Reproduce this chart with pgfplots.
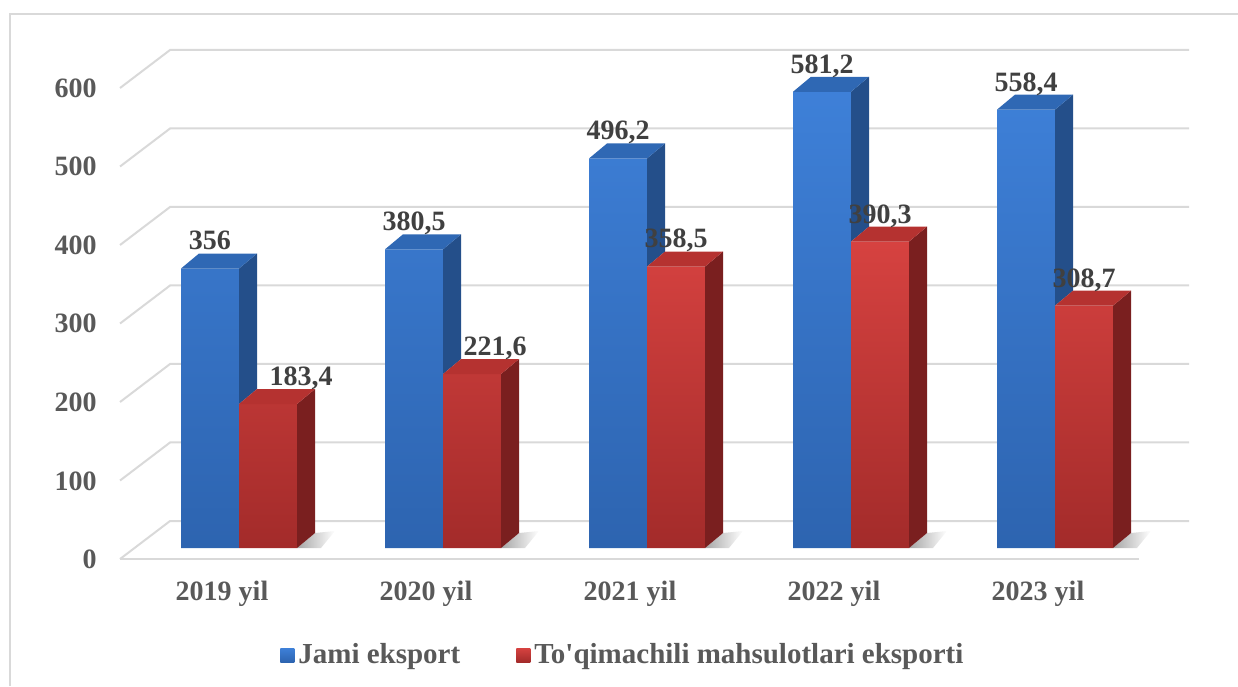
\documentclass[border=0pt]{standalone}
\usepackage{pgfplots}
\pgfplotsset{compat=1.18}
\usepackage{pgfplotstable}
\usepackage{fontspec}
\setmainfont{Liberation Serif}
\definecolor{gridc}{HTML}{D9D9D9}
\definecolor{txt}{HTML}{595959}
\definecolor{lbl}{HTML}{404040}
\definecolor{bfT}{HTML}{3E80D8}
\definecolor{bfB}{HTML}{2D64B0}
\definecolor{bS}{HTML}{244F8A}
\definecolor{bTop}{HTML}{2F68B4}
\definecolor{rfT}{HTML}{D64240}
\definecolor{rfB}{HTML}{A32B2A}
\definecolor{rS}{HTML}{7A1F1F}
\definecolor{rTop}{HTML}{B53230}
\pgfdeclareplotmark{empty}{}
\pgfkeys{/pgf/number format/assume math mode=true}
\pgfplotstableread{
x v r ldx
0 356 183.4 0
1 380.5 221.6 0
2 496.2 358.5 0
3 581.2 390.3 0
4 558.4 308.7 0
}\jami
\pgfplotstableread{
x v ldx
0 183.4 16.5
1 221.6 11.5
2 358.5 0
3 390.3 0
4 308.7 0
}\toq
\begin{document}
\begin{tikzpicture}[font=\bfseries\fontsize{14}{16}\selectfont]
\useasboundingbox (0,0) rectangle (619pt,343pt);
\draw[gridc, line width=1pt] (5pt,0) -- (5pt,336pt) -- (619pt,336pt);
\begin{axis}[
  at={(119.5pt,69pt)}, anchor=origin,
  x=102pt, y=0.3925pt,
  xmin=-0.6, xmax=4.6, ymin=0, ymax=620,
  clip=false,
  axis line style={draw=none},
  major tick length=0pt,
  xtick={0,...,4}, xticklabels={2019 yil,2020 yil,2021 yil,2022 yil,2023 yil},
  ytick={0,100,...,600},
  tick label style={font=\bfseries\fontsize{14}{16}\selectfont, text=txt, inner sep=0pt},
  xticklabel style={anchor=base, yshift=-26pt, xshift=-8.5pt},
  yticklabel style={anchor=base east, yshift=-10.25pt, xshift=-9.8pt},
  legend style={at={(0.154,-0.22)}, anchor=west, draw=none, fill=none,
    legend columns=2, text=txt, inner sep=0pt,
    font=\bfseries\fontsize{14.5}{16}\selectfont,
    /tikz/every even column/.append style={column sep=26pt}},
  legend cell align=left,
]
\pgfplotsinvokeforeach{0,100,...,600}{
  \draw[gridc, line width=1pt] ([xshift=-7.25pt,yshift=-5.5pt]axis cs:-0.512,#1) -- ([xshift=17.75pt,yshift=13.5pt]axis cs:-0.512,#1) -- ([xshift=17.75pt,yshift=13.5pt]axis cs:4.483,#1);
}
\draw[gridc, line width=1pt] ([xshift=-7.25pt,yshift=-5.5pt]axis cs:-0.512,0) -- ([xshift=-7.25pt,yshift=-5.5pt]axis cs:4.483,0);

\addplot[ybar, bar width=29pt, bar shift=-14.5pt, draw=none, top color=bfT, bottom color=bfB,
  legend image code/.code={\shade[top color=bfT, bottom color=bfB] (0pt,-3.5pt) rectangle (7pt,3.5pt);}]
  table[x=x,y=v]{\jami};
\addlegendentry{Jami eksport}
\addplot[ybar, bar width=29pt, bar shift=14.5pt, draw=none, top color=rfT, bottom color=rfB,
  legend image code/.code={\shade[top color=rfT, bottom color=rfB] (0pt,-3.5pt) rectangle (7pt,3.5pt);}]
  table[x=x,y=v]{\toq};
\addlegendentry{To\textquotesingle qimachili mahsulotlari eksporti}

\addplot[forget plot, scatter, only marks, mark=empty,
  visualization depends on={\thisrow{v} \as \ry},
  visualization depends on={\thisrow{r} \as \rr},
  visualization depends on={\thisrow{ldx} \as \ldx},
  scatter/@pre marker code/.code={%
    \pgfmathsetmacro\d{(\ry-\rr)*0.3925}%
    \fill[bS, draw=none] (0pt,0pt) -- ++(9pt,7.5pt) -- ++(0pt,-\d pt) -- ++(-9pt,-7.5pt) -- cycle;
    \fill[bTop, draw=none] (-29pt,0pt) -- (0pt,0pt) -- ++(9pt,7.5pt) -- ++(-29pt,0pt) -- cycle;
    \node[anchor=base, text=lbl, inner sep=0pt, draw=none] at (-14.5pt+\ldx pt, 9.3pt) {\pgfmathprintnumber[fixed,precision=1,use comma,1000 sep={}]{\ry}};
  },
  scatter/@post marker code/.code={}]
  table[x=x,y=v]{\jami};

\addplot[forget plot, scatter, only marks, mark=empty,
  visualization depends on={\thisrow{v} \as \ry},
  visualization depends on={\thisrow{ldx} \as \ldx},
  scatter/@pre marker code/.code={%
    \pgfmathsetmacro\h{\ry*0.3925}%
    \shade[draw=none, left color=black!35, right color=white] (29pt,-\h pt) -- (38pt,-\h pt+7.5pt) -- (48pt,-\h pt+8.5pt) -- (41pt,-\h pt) -- cycle;
    \fill[rS, draw=none] (29pt,0pt) -- ++(9pt,7.5pt) -- ++(0pt,-\h pt) -- ++(-9pt,-7.5pt) -- cycle;
    \fill[rTop, draw=none] (0pt,0pt) -- (29pt,0pt) -- ++(9pt,7.5pt) -- ++(-29pt,0pt) -- cycle;
    \node[anchor=base, text=lbl, inner sep=0pt, draw=none] at (14.5pt+\ldx pt, 9.3pt) {\pgfmathprintnumber[fixed,precision=1,use comma,1000 sep={}]{\ry}};
  },
  scatter/@post marker code/.code={}]
  table[x=x,y=v]{\toq};
\end{axis}
\end{tikzpicture}
\end{document}
